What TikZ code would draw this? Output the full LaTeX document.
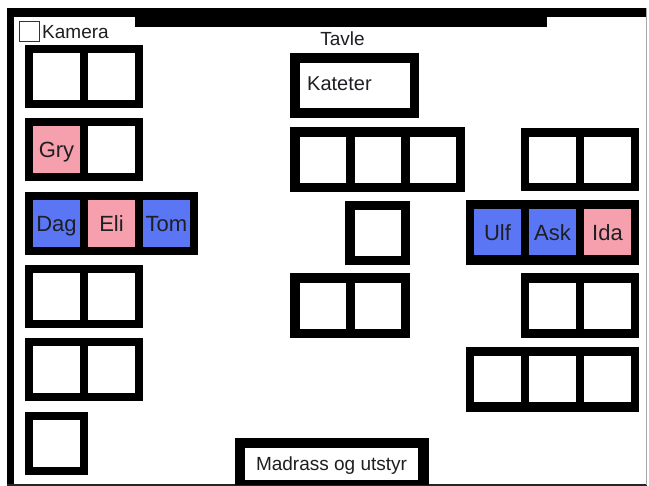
\documentclass[tikz,border=0pt]{standalone}
\usepackage{fontspec}
\setmainfont{Liberation Sans}
\definecolor{pinkseat}{RGB}{245,160,172}
\definecolor{blueseat}{RGB}{90,118,245}
\definecolor{txt}{RGB}{30,30,35}
\tikzset{
  seat/.style={fill=white, draw=none, inner sep=0pt, minimum width=47pt, minimum height=47pt,
    font=\fontsize{22}{26}\selectfont, text=txt, text height=15.8pt, text depth=0pt},
  seatc/.style={seat, minimum width=46pt, minimum height=46pt},
  seatr/.style={seat, minimum width=47pt, minimum height=46pt},
  lbl/.style={inner sep=0pt, text=txt},
}
\newcommand\grp[4]{\fill[black] (#1,#2) rectangle (#3,#4);}
\begin{document}
\begin{tikzpicture}[x=1pt,y=-1pt]
\useasboundingbox (0,0) rectangle (649,486);
\fill[white] (0,0) rectangle (649,486);
% room frame
\fill[black] (7,8) rectangle (647,17);
\fill[black] (135,17) rectangle (547,27);
\fill[black] (7,8) rectangle (14,485);
\fill[black!85] (7,483.6) rectangle (647,486);
\draw[black!35, line width=1pt] (646.5,8) -- (646.5,485);
% camera
\node[draw=black!80, line width=1pt, fill=white, minimum size=20pt, inner sep=0pt] (kamerabox) at (29,32) {};
\node[lbl, anchor=base west, font=\fontsize{19}{22}\selectfont] (kamera) at (42,38.5) {Kamera};
% board
\node[lbl, anchor=base, font=\fontsize{19}{22}\selectfont] (tavle) at (342.5,46) {Tavle};
% teacher desk
\grp{290}{53}{419}{118}
\node[fill=white, inner sep=0pt, minimum width=110pt, minimum height=45pt] (kateter) at (355,85.5) {};
\node[lbl, anchor=base west, font=\fontsize{20}{24}\selectfont] (katlbl) at (307,91) {Kateter};
% left column
\grp{25}{45}{143}{108}
\node[seat] (l1a) at (56.5,76.5) {};
\node[seat] (l1b) at (111.5,76.5) {};
\grp{25}{118}{143}{181}
\node[seat, fill=pinkseat] (gry) at (56.5,149.5) {Gry};
\node[seat] (l2b) at (111.5,149.5) {};
\grp{25}{192}{198}{255}
\node[seat, fill=blueseat] (dag) at (56.5,223.5) {Dag};
\node[seat, fill=pinkseat] (eli) at (111.5,223.5) {Eli};
\node[seat, fill=blueseat] (tom) at (166.5,223.5) {Tom};
\grp{25}{265}{143}{328}
\node[seat] (l4a) at (56.5,296.5) {};
\node[seat] (l4b) at (111.5,296.5) {};
\grp{25}{338}{143}{401}
\node[seat] (l5a) at (56.5,369.5) {};
\node[seat] (l5b) at (111.5,369.5) {};
\grp{25}{412}{88}{475}
\node[seat] (l6a) at (56.5,443.5) {};
% centre column
\grp{290}{127}{465}{192}
\node[seatc] (c1a) at (323,160) {};
\node[seatc] (c1b) at (378,160) {};
\node[seatc] (c1c) at (433,160) {};
\grp{345}{201}{410}{265}
\node[seatc] (c2a) at (378,233) {};
\grp{290}{273}{410}{338}
\node[seatc] (c3a) at (323,306) {};
\node[seatc] (c3b) at (378,306) {};
% right column
\grp{521}{128}{639}{191}
\node[seatr] (r1a) at (552.5,160) {};
\node[seatr] (r1b) at (607.5,160) {};
\grp{466}{200}{639}{265}
\node[seatr, fill=blueseat] (ulf) at (497.5,232.5) {Ulf};
\node[seatr, fill=blueseat] (ask) at (552.5,232.5) {Ask};
\node[seatr, fill=pinkseat] (ida) at (607.5,232.5) {Ida};
\grp{521}{273}{639}{338}
\node[seatr] (r3a) at (552.5,306) {};
\node[seatr] (r3b) at (607.5,306) {};
\grp{466}{347}{639}{412}
\node[seatr] (r4a) at (497.5,379.5) {};
\node[seatr] (r4b) at (552.5,379.5) {};
\node[seatr] (r4c) at (607.5,379.5) {};
% mattress
\grp{235}{438}{429}{485}
\node[fill=white, inner sep=0pt, minimum width=173pt, minimum height=32pt, font=\fontsize{19}{22}\selectfont, text=txt, text height=13.6pt, text depth=0pt] (madrass) at (331.5,464) {Madrass og utstyr};
\end{tikzpicture}
\end{document}
